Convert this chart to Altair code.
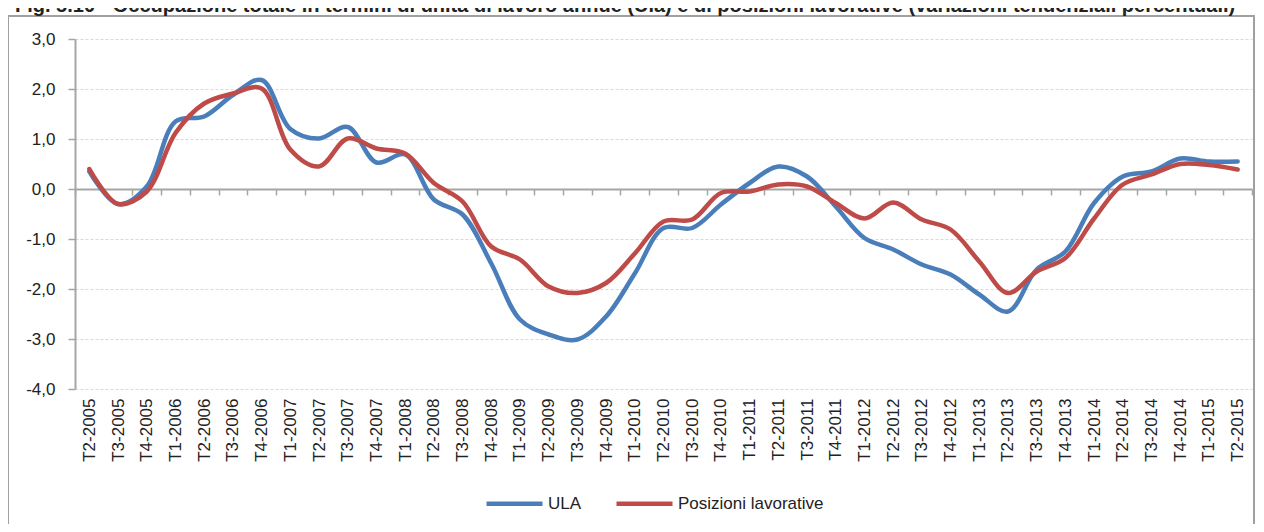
import altair as alt
import pandas as pd

periods = [
    "T2-2005", "T3-2005", "T4-2005",
    "T1-2006", "T2-2006", "T3-2006", "T4-2006",
    "T1-2007", "T2-2007", "T3-2007", "T4-2007",
    "T1-2008", "T2-2008", "T3-2008", "T4-2008",
    "T1-2009", "T2-2009", "T3-2009", "T4-2009",
    "T1-2010", "T2-2010", "T3-2010", "T4-2010",
    "T1-2011", "T2-2011", "T3-2011", "T4-2011",
    "T1-2012", "T2-2012", "T3-2012", "T4-2012",
    "T1-2013", "T2-2013", "T3-2013", "T4-2013",
    "T1-2014", "T2-2014", "T3-2014", "T4-2014",
    "T1-2015", "T2-2015",
]

ula = [0.35, -0.30, 0.05, 1.35, 1.45, 1.88, 2.18, 1.20, 1.01, 1.24, 0.53,
       0.69, -0.21, -0.51, -1.49, -2.61, -2.91, -3.01, -2.55, -1.69, -0.78,
       -0.78, -0.31, 0.12, 0.45, 0.25, -0.35, -0.98, -1.21, -1.51, -1.71,
       -2.11, -2.45, -1.61, -1.25, -0.28, 0.25, 0.35, 0.61, 0.55, 0.55]

posizioni = [0.40, -0.30, -0.05, 1.12, 1.71, 1.91, 2.01, 0.79, 0.45, 1.01, 0.81,
             0.71, 0.12, -0.25, -1.15, -1.41, -1.95, -2.08, -1.88, -1.29, -0.65,
             -0.61, -0.08, -0.05, 0.09, 0.05, -0.28, -0.59, -0.27, -0.61, -0.81,
             -1.45, -2.08, -1.65, -1.38, -0.59, 0.09, 0.29, 0.50, 0.48, 0.39]

series_names = ["ULA", "Posizioni lavorative"]
series_colors = ["#4A7EBB", "#BE4B48"]
y_ticks = [-4, -3, -2, -1, 0, 1, 2, 3]

title_text = ("Fig. 5.10 - Occupazione totale in termini di unità di lavoro annue (Ula) "
              "e di posizioni lavorative (variazioni tendenziali percentuali)")

rows = []
for p, v in zip(periods, ula):
    rows.append({"periodo": p, "valore": v, "serie": series_names[0]})
for p, v in zip(periods, posizioni):
    rows.append({"periodo": p, "valore": v, "serie": series_names[1]})
df = pd.DataFrame(rows)

FONT = "Liberation Sans"
GRAY = "#A6A6A6"
W, H = 1177, 350

lines = alt.Chart(df).mark_line(
    strokeWidth=4.5, interpolate="catmull-rom", strokeCap="round", strokeJoin="round"
).encode(
    x=alt.X(
        "periodo:N",
        sort=periods,
        bandPosition=0.5,
        scale=alt.Scale(type="band", paddingInner=0, paddingOuter=0),
        axis=alt.Axis(
            title=None,
            labelAngle=-90,
            labelFont=FONT,
            labelFontSize=17,
            labelColor="#222222",
            labelOverlap=False,
            labelPadding=203,
            domain=True,
            domainColor=GRAY,
            domainWidth=2,
            ticks=True,
            tickBand="extent",
            tickColor=GRAY,
            tickSize=6,
            tickWidth=1.5,
            offset=-200,
            grid=False,
        ),
    ),
    y=alt.Y(
        "valore:Q",
        scale=alt.Scale(domain=[-4, 3], nice=False, zero=False),
        axis=alt.Axis(
            title=None,
            values=y_ticks,
            labelExpr="(datum.value < 0 ? '-' : '') + replace(format(abs(datum.value), '.1f'), '.', ',')",
            labelFont=FONT,
            labelFontSize=17,
            labelColor="#222222",
            labelPadding=13,
            domainColor=GRAY,
            domainWidth=2,
            tickColor=GRAY,
            tickSize=7,
            tickWidth=1.5,
            grid=True,
            gridColor="#D9D9D9",
            gridDash=[3, 2],
            gridWidth=1,
        ),
    ),
    color=alt.Color(
        "serie:N",
        sort=series_names,
        scale=alt.Scale(domain=series_names, range=series_colors),
        legend=alt.Legend(
            title=None,
            orient="none",
            direction="horizontal",
            legendX=409,
            legendY=434,
            symbolType="stroke",
            symbolSize=3136,
            symbolStrokeWidth=4.5,
            labelFont=FONT,
            labelFontSize=17,
            labelColor="#222222",
            labelOffset=3,
            columnPadding=25,
        ),
    ),
)

frame = alt.Chart(pd.DataFrame({"k": [0]})).mark_rect(
    fill="transparent", stroke="#A0A0A0", strokeWidth=2
).encode(
    x=alt.value(-67), x2=alt.value(1179), y=alt.value(-23), y2=alt.value(560)
)

title = alt.Chart(pd.DataFrame({"k": [0]})).mark_text(
    align="left", baseline="alphabetic", font=FONT, fontSize=20,
    fontWeight="bold", color="#222222"
).encode(
    x=alt.value(-60), y=alt.value(-27), text=alt.value(title_text)
)

chart = alt.layer(frame, lines, title).properties(
    width=W,
    height=H,
    padding={"left": 67, "top": 31, "right": 4, "bottom": 135},
    autosize=alt.AutoSizeParams(type="none"),
    background="white",
).configure_view(stroke=None)

chart.save("out.html", embed_options={"renderer": "svg", "actions": False})
